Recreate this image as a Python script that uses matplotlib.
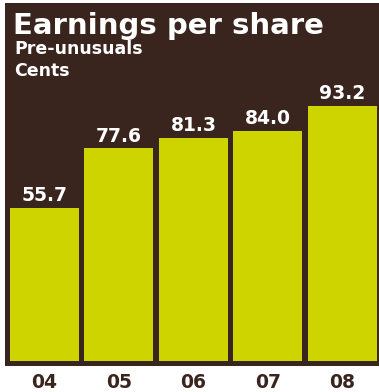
import matplotlib
matplotlib.use("Agg")
import matplotlib.pyplot as plt

# Earnings per share, pre-unusuals, in cents
years = ["04", "05", "06", "07", "08"]
eps_cents = [55.7, 77.6, 81.3, 84.0, 93.2]

brown = "#3a241e"
lime = "#cdd400"

W, H = 379, 392
fig = plt.figure(figsize=(W / 100, H / 100), dpi=100)
fig.patch.set_facecolor("white")

# panel in pixel coordinates: left 5, right 379, top 3, bottom 366
ax = fig.add_axes([5 / W, (H - 366) / H, 374 / W, 363 / H])
ax.set_facecolor(brown)

x = range(len(years))
ax.bar(x, eps_cents, width=0.926, color=lime, linewidth=0)
ax.set_xlim(-0.53, 4.49)
ax.set_ylim(-1.82, 130.7)

for i, v in zip(x, eps_cents):
    ax.annotate(f"{v:.1f}", (i, v), xytext=(0, 5), textcoords="offset points",
                ha="center", va="baseline", color="white",
                fontsize=13.5, fontweight="bold")

ax.set_xticks(list(x))
ax.set_xticklabels(years, color=brown, fontsize=13.5, fontweight="bold")
ax.tick_params(axis="x", length=0, pad=5)
ax.set_yticks([])
for s in ax.spines.values():
    s.set_visible(False)

fig.text(13 / W, (H - 34) / H, "Earnings per share", color="white",
         fontsize=21, fontweight="bold", va="baseline", ha="left")
fig.text(14 / W, (H - 54) / H, "Pre-unusuals", color="white",
         fontsize=12.5, fontweight="bold", va="baseline", ha="left")
fig.text(14 / W, (H - 76) / H, "Cents", color="white",
         fontsize=12.5, fontweight="bold", va="baseline", ha="left")

fig.savefig("out.png", dpi=100, facecolor=fig.get_facecolor())
